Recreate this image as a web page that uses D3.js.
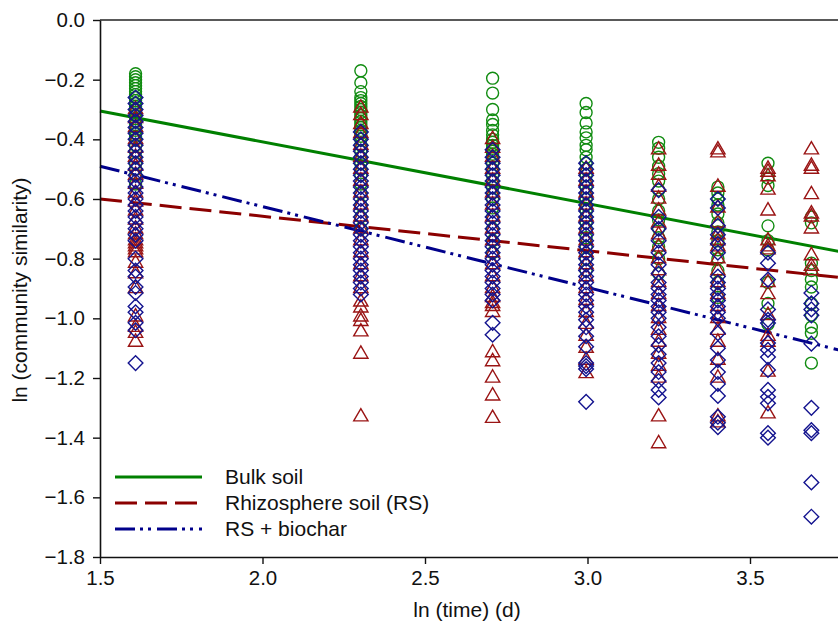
<!DOCTYPE html>
<html>
<head>
<meta charset="utf-8">
<script src="https://cdn.jsdelivr.net/npm/d3@7"></script>
<style>
  body { margin: 0; background: #fff; }
  svg { display: block; font-family: Arial, 'Liberation Sans', sans-serif; }
</style>
</head>
<body>
<svg width="838" height="621"></svg>
<script>
// sampling days, plotted as ln(day)
var days = [5, 10, 15, 20, 25, 30, 35, 40];

// ln(community similarity), one list per sampling day
var bulk = [
  [-0.18,-0.19,-0.20,-0.21,-0.22,-0.23,-0.24,-0.25,-0.26,-0.27,-0.28,-0.29,-0.30,-0.31,-0.32,-0.33,-0.34,-0.35,-0.36,-0.37,-0.38,-0.39,-0.40,-0.42,-0.44,-0.46,-0.48,-0.50,-0.52,-0.55],
  [-0.17,-0.21,-0.24,-0.26,-0.27,-0.28,-0.29,-0.30,-0.31,-0.32,-0.33,-0.34,-0.35,-0.36,-0.37,-0.38,-0.39,-0.40,-0.42,-0.44,-0.46,-0.48,-0.50,-0.52,-0.55,-0.58,-0.62,-0.66,-0.70],
  [-0.195,-0.245,-0.30,-0.335,-0.35,-0.37,-0.385,-0.40,-0.41,-0.42,-0.43,-0.44,-0.45,-0.46,-0.48,-0.50,-0.52,-0.54,-0.56,-0.58,-0.60,-0.63,-0.66,-0.70,-0.74,-0.78],
  [-0.28,-0.31,-0.345,-0.375,-0.395,-0.42,-0.435,-0.46,-0.48,-0.50,-0.52,-0.54,-0.56,-0.58,-0.60,-0.62,-0.64,-0.66,-0.68,-0.70,-0.73,-0.76,-0.80,-0.84],
  [-0.41,-0.43,-0.46,-0.49,-0.515,-0.54,-0.57,-0.60,-0.64,-0.67,-0.70,-0.73,-0.76,-0.80,-0.85],
  [-0.56,-0.58,-0.60,-0.62,-0.65,-0.68,-0.71,-0.74,-0.77,-0.80,-0.84,-0.88,-0.93],
  [-0.48,-0.53,-0.555,-0.69,-0.74,-0.77,-0.88,-0.95,-1.02],
  [-0.66,-0.68,-0.815,-0.84,-0.87,-0.895,-0.95,-0.99,-1.03,-1.05,-1.15]
];
var rhizo = [
  [-0.30,-0.33,-0.36,-0.40,-0.43,-0.46,-0.49,-0.52,-0.55,-0.58,-0.61,-0.64,-0.67,-0.70,-0.72,-0.74,-0.75,-0.76,-0.77,-0.78,-0.815,-0.85,-0.90,-0.995,-1.03,-1.05,-1.08],
  [-0.295,-0.32,-0.35,-0.38,-0.42,-0.46,-0.50,-0.54,-0.58,-0.62,-0.66,-0.70,-0.74,-0.78,-0.82,-0.86,-0.90,-0.945,-0.965,-0.995,-1.01,-1.045,-1.12,-1.33],
  [-0.40,-0.43,-0.46,-0.50,-0.54,-0.58,-0.62,-0.66,-0.70,-0.74,-0.78,-0.82,-0.86,-0.90,-0.93,-0.95,-0.96,-0.98,-1.115,-1.145,-1.20,-1.26,-1.335],
  [-0.50,-0.54,-0.58,-0.62,-0.66,-0.70,-0.74,-0.78,-0.82,-0.86,-0.90,-0.94,-0.98,-1.02,-1.06,-1.10,-1.14,-1.185],
  [-0.435,-0.49,-0.52,-0.56,-0.60,-0.64,-0.68,-0.72,-0.76,-0.80,-0.84,-0.88,-0.92,-0.96,-1.00,-1.04,-1.08,-1.12,-1.16,-1.20,-1.33,-1.42],
  [-0.435,-0.445,-0.56,-0.63,-0.68,-0.72,-0.74,-0.76,-0.80,-0.84,-0.88,-0.92,-0.96,-1.00,-1.04,-1.08,-1.14,-1.20,-1.33,-1.35],
  [-0.50,-0.51,-0.525,-0.57,-0.64,-0.74,-0.76,-0.77,-0.88,-0.92,-0.99,-1.06,-1.08,-1.18,-1.32],
  [-0.435,-0.49,-0.50,-0.585,-0.65,-0.66,-0.70,-0.79,-0.825,-0.84]
];
var biochar = [
  [-0.26,-0.28,-0.30,-0.32,-0.34,-0.36,-0.38,-0.40,-0.42,-0.44,-0.46,-0.48,-0.50,-0.52,-0.54,-0.56,-0.58,-0.60,-0.62,-0.64,-0.66,-0.68,-0.70,-0.72,-0.74,-0.80,-0.84,-0.86,-0.895,-0.915,-0.96,-0.98,-1.015,-1.04,-1.15],
  [-0.375,-0.40,-0.42,-0.44,-0.46,-0.48,-0.50,-0.52,-0.54,-0.56,-0.58,-0.60,-0.62,-0.64,-0.66,-0.68,-0.70,-0.72,-0.74,-0.76,-0.78,-0.80,-0.82,-0.84,-0.86,-0.88,-0.90,-0.92],
  [-0.435,-0.46,-0.48,-0.50,-0.52,-0.54,-0.56,-0.58,-0.60,-0.62,-0.64,-0.66,-0.68,-0.70,-0.72,-0.74,-0.76,-0.78,-0.80,-0.82,-0.84,-0.86,-0.88,-0.90,-0.92,-0.94,-1.015,-1.055],
  [-0.48,-0.50,-0.52,-0.54,-0.56,-0.58,-0.60,-0.62,-0.64,-0.66,-0.68,-0.70,-0.72,-0.74,-0.76,-0.78,-0.80,-0.82,-0.84,-0.86,-0.88,-0.90,-0.92,-0.94,-0.96,-0.98,-1.005,-1.03,-1.06,-1.095,-1.15,-1.16,-1.17,-1.28],
  [-0.57,-0.66,-0.70,-0.74,-0.78,-0.82,-0.85,-0.88,-0.90,-0.92,-0.94,-0.96,-0.98,-1.00,-1.03,-1.06,-1.09,-1.12,-1.15,-1.18,-1.21,-1.24,-1.265],
  [-0.60,-0.63,-0.69,-0.72,-0.75,-0.78,-0.86,-0.88,-0.90,-0.92,-0.94,-0.96,-0.98,-1.00,-1.05,-1.10,-1.14,-1.18,-1.22,-1.26,-1.33,-1.35,-1.365],
  [-0.78,-0.815,-0.87,-0.97,-1.005,-1.016,-1.083,-1.106,-1.13,-1.173,-1.24,-1.263,-1.285,-1.385,-1.40],
  [-0.915,-0.95,-0.97,-0.99,-1.085,-1.30,-1.375,-1.385,-1.55,-1.665]
];

// fitted regression lines: value at ln(time) = 1.5 and slope
var fitStart = [-0.305, -0.60, -0.49];
var fitSlope = [-0.207, -0.1156, -0.271];

var legendLabels = ['Bulk soil', 'Rhizosphere soil (RS)', 'RS + biochar'];
var xTicks = [1.5, 2.0, 2.5, 3.0, 3.5];
var yTicks = [0.0, -0.2, -0.4, -0.6, -0.8, -1.0, -1.2, -1.4, -1.6, -1.8];

var series = [
  {values: bulk, color: '#118c11', line: '#008000', dash: null, shape: d3.symbolCircle, size: 112, rot: 0},
  {values: rhizo, color: '#9a1414', line: '#8b0000', dash: '22,8', shape: d3.symbolTriangle, size: 88, rot: 0},
  {values: biochar, color: '#14148f', line: '#00008b', dash: '20,5,3,5,3,6', shape: d3.symbolSquare, size: 108, rot: 45}
];

var svg = d3.select('svg');
var x = d3.scaleLinear().domain([1.5, 4.0]).range([100, 912.5]);
var y = d3.scaleLinear().domain([-1.8, 0]).range([557, 20]);

// top frame
svg.append('line')
  .attr('x1', x(1.5)).attr('x2', x(4.0))
  .attr('y1', y(0)).attr('y2', y(0))
  .attr('stroke', '#222').attr('stroke-width', 1.6);

// fitted lines
var g = svg.append('g');
series.forEach(function(s, i) {
  g.append('path')
    .datum([1.5, 4.0])
    .attr('d', d3.line()
      .x(function(d) { return x(d); })
      .y(function(d) { return y(fitStart[i] + fitSlope[i] * (d - 1.5)); }))
    .attr('fill', 'none')
    .attr('stroke', s.line)
    .attr('stroke-width', 3)
    .attr('stroke-dasharray', s.dash);
});

// scatter points
series.forEach(function(s) {
  var pts = [];
  s.values.forEach(function(col, j) {
    col.forEach(function(v) { pts.push([Math.log(days[j]), v]); });
  });
  var sym = d3.symbol().type(s.shape).size(s.size);
  g.append('g').selectAll('path')
    .data(pts)
    .join('path')
    .attr('d', sym)
    .attr('transform', function(d) {
      return 'translate(' + x(d[0]) + ',' + y(d[1]) + ') rotate(' + s.rot + ')';
    })
    .attr('fill', 'none')
    .attr('stroke', s.color)
    .attr('stroke-width', 1.4);
});

// axes
var xAxis = svg.append('g')
  .attr('transform', 'translate(0,' + y(-1.8) + ')')
  .call(d3.axisBottom(x).tickValues(xTicks).tickFormat(d3.format('.1f')).tickSize(7).tickSizeOuter(0));
var yAxis = svg.append('g')
  .attr('transform', 'translate(' + x(1.5) + ',0)')
  .call(d3.axisLeft(y).tickValues(yTicks).tickFormat(d3.format('.1f')).tickSize(7).tickSizeOuter(0));
[xAxis, yAxis].forEach(function(a) {
  a.select('.domain').attr('stroke', '#111').attr('stroke-width', 1.6);
  a.selectAll('.tick line').attr('stroke', '#111').attr('stroke-width', 1.4);
  a.selectAll('.tick text').attr('font-size', '20.5px').attr('fill', '#111')
    .attr('font-family', 'Arial, Liberation Sans, sans-serif');
});
xAxis.selectAll('.tick text').attr('dy', '0.71em').attr('y', 13);
yAxis.selectAll('.tick text').attr('x', -15);

// axis titles
svg.append('text')
  .attr('x', 467).attr('y', 617)
  .attr('text-anchor', 'middle')
  .attr('font-size', '21px').attr('fill', '#111')
  .text('ln (time) (d)');
svg.append('text')
  .attr('transform', 'translate(27,290) rotate(-90)')
  .attr('text-anchor', 'middle')
  .attr('font-size', '21px').attr('fill', '#111')
  .text('ln (community similarity)');

// legend
var legend = svg.append('g');
legendLabels.forEach(function(label, i) {
  var ly = 477 + i * 26;
  legend.append('line')
    .attr('x1', 115).attr('x2', 202)
    .attr('y1', ly).attr('y2', ly)
    .attr('stroke', series[i].line)
    .attr('stroke-width', 3)
    .attr('stroke-dasharray', series[i].dash);
  legend.append('text')
    .attr('x', 225).attr('y', ly)
    .attr('dy', '0.35em')
    .attr('font-size', '21px').attr('fill', '#111')
    .text(label);
});
</script>
</body>
</html>
